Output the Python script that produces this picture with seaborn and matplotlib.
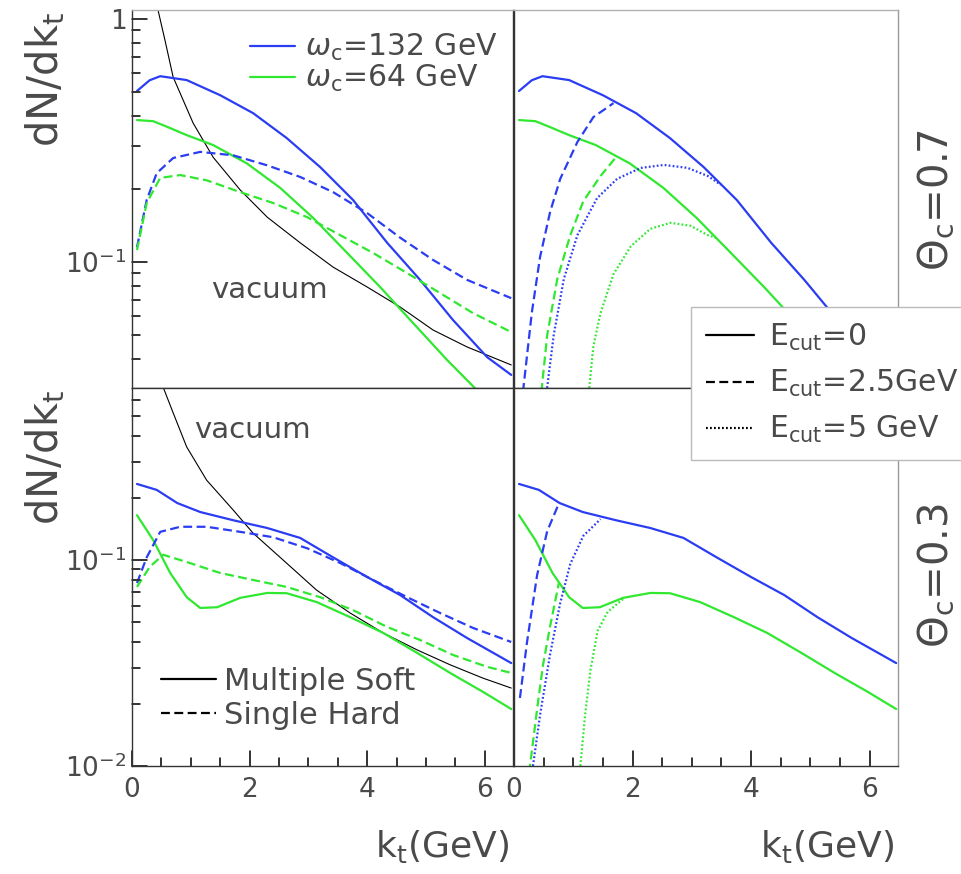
import numpy as np
import pandas as pd
import matplotlib
matplotlib.use("Agg")
import matplotlib.pyplot as plt
from matplotlib.lines import Line2D
from matplotlib.ticker import LogLocator, FixedLocator, FixedFormatter, NullFormatter
import seaborn as sns

# ---- data (k_t in GeV, dN/dk_t) ----
# Theta_c = 0.7 (top row)
soft132_07_x = [0.085, 0.3, 0.48, 0.93, 1.5, 2.06, 2.63, 3.2, 3.76, 4.34, 4.9, 5.46, 6.04, 6.45]
soft132_07_y = [0.506, 0.56, 0.582, 0.561, 0.486, 0.41, 0.324, 0.246, 0.18, 0.120, 0.0844, 0.0577, 0.0406, 0.0343]
soft64_07_x = [0.085, 0.36, 0.6, 0.93, 1.38, 1.95, 2.52, 3.08, 3.66, 4.22, 4.78, 5.36, 5.83, 6.45]
soft64_07_y = [0.384, 0.38, 0.36, 0.333, 0.303, 0.255, 0.202, 0.152, 0.109, 0.0789, 0.0561, 0.0395, 0.0303, 0.021]
hard132_07_x = [0.085, 0.25, 0.42, 0.7, 1.16, 1.72, 2.3, 2.86, 3.42, 4.0, 4.56, 5.12, 5.7, 6.45]
hard132_07_y = [0.115, 0.18, 0.232, 0.268, 0.284, 0.275, 0.25, 0.224, 0.194, 0.159, 0.126, 0.102, 0.0844, 0.071]
hard64_07_x = [0.085, 0.25, 0.48, 0.82, 1.27, 1.84, 2.4, 2.98, 3.54, 4.1, 4.68, 5.24, 5.8, 6.45]
hard64_07_y = [0.112, 0.175, 0.222, 0.228, 0.217, 0.194, 0.175, 0.153, 0.129, 0.109, 0.090, 0.0745, 0.0616, 0.0515]
vac07_x = [0.42, 0.56, 0.7, 1.04, 1.38, 1.84, 2.3, 2.86, 3.42, 4.0, 4.56, 5.12, 5.7, 6.45]
vac07_y = [1.15, 0.82, 0.577, 0.373, 0.270, 0.198, 0.153, 0.120, 0.0953, 0.0789, 0.0653, 0.0525, 0.0447, 0.0377]
cut25_132_07_x = [0.12, 0.16, 0.3, 0.44, 0.61, 0.78, 1.07, 1.34, 1.68]
cut25_132_07_y = [0.02, 0.0305, 0.0617, 0.105, 0.161, 0.22, 0.312, 0.395, 0.451]
cut25_64_07_x = [0.42, 0.47, 0.56, 0.73, 0.95, 1.17, 1.46, 1.71]
cut25_64_07_y = [0.02, 0.0305, 0.050, 0.085, 0.129, 0.178, 0.226, 0.268]
cut5_132_07_x = [0.52, 0.56, 0.67, 0.84, 1.07, 1.4, 1.74, 2.14, 2.53, 2.93, 3.27, 3.49]
cut5_132_07_y = [0.02, 0.0305, 0.05, 0.085, 0.129, 0.183, 0.22, 0.244, 0.251, 0.244, 0.226, 0.208]
cut5_64_07_x = [1.24, 1.27, 1.34, 1.46, 1.68, 1.97, 2.3, 2.64, 2.98, 3.27, 3.44]
cut5_64_07_y = [0.02, 0.0305, 0.0451, 0.0617, 0.0893, 0.116, 0.137, 0.145, 0.141, 0.129, 0.125]

# Theta_c = 0.3 (bottom row)
soft132_03_x = [0.085, 0.42, 0.77, 1.16, 1.72, 2.3, 2.86, 3.42, 4.0, 4.56, 5.12, 5.7, 6.45]
soft132_03_y = [0.234, 0.219, 0.189, 0.171, 0.156, 0.143, 0.128, 0.103, 0.0827, 0.0676, 0.0528, 0.0418, 0.0316]
soft64_03_x = [0.085, 0.36, 0.65, 0.93, 1.16, 1.45, 1.84, 2.3, 2.63, 3.14, 3.71, 4.27, 4.85, 5.41, 5.97, 6.45]
soft64_03_y = [0.165, 0.125, 0.0865, 0.066, 0.0585, 0.059, 0.0655, 0.0692, 0.069, 0.0625, 0.0528, 0.0443, 0.0354, 0.0283, 0.0229, 0.0189]
hard132_03_x = [0.085, 0.25, 0.48, 0.82, 1.27, 1.84, 2.4, 2.98, 3.54, 4.1, 4.68, 5.24, 5.8, 6.45]
hard132_03_y = [0.0773, 0.103, 0.137, 0.145, 0.145, 0.137, 0.129, 0.114, 0.0967, 0.08, 0.066, 0.0553, 0.0468, 0.04]
hard64_03_x = [0.085, 0.3, 0.53, 0.93, 1.5, 2.06, 2.63, 3.2, 3.76, 4.34, 4.9, 5.46, 6.04, 6.45]
hard64_03_y = [0.074, 0.0925, 0.106, 0.0978, 0.0865, 0.08, 0.074, 0.066, 0.0571, 0.0473, 0.0409, 0.0346, 0.0303, 0.0283]
vac03_x = [0.45, 0.53, 0.7, 0.93, 1.27, 1.72, 2.06, 2.57, 3.14, 3.71, 4.27, 4.85, 5.41, 5.97, 6.45]
vac03_y = [0.9, 0.69, 0.518, 0.354, 0.244, 0.175, 0.135, 0.1, 0.0714, 0.0553, 0.0443, 0.0366, 0.031, 0.0267, 0.0239]
cut25_132_03_x = [0.1, 0.22, 0.39, 0.56, 0.76]
cut25_132_03_y = [0.0214, 0.04, 0.0845, 0.138, 0.189]
cut5_132_03_x = [0.3, 0.32, 0.44, 0.61, 0.78, 0.95, 1.17, 1.46]
cut5_132_03_y = [0.008, 0.01, 0.0177, 0.035, 0.0618, 0.0957, 0.131, 0.158]
cut25_64_03_x = [0.25, 0.27, 0.39, 0.49, 0.61, 0.76]
cut25_64_03_y = [0.008, 0.01, 0.0189, 0.031, 0.0478, 0.078]
cut5_64_03_x = [1.1, 1.12, 1.2, 1.29, 1.41, 1.58, 1.85]
cut5_64_03_y = [0.008, 0.01, 0.0177, 0.0292, 0.0452, 0.056, 0.065]

x_ticks = [0, 2, 4, 6]
x_minor = [0.5, 1, 1.5, 2.5, 3, 3.5, 4.5, 5, 5.5]
top_yticks = [0.1, 1]
top_ylabels = [r'$\mathregular{10^{-1}}$', '1']
bot_yticks = [0.01, 0.1]
bot_ylabels = [r'$\mathregular{10^{-2}}$', r'$\mathregular{10^{-1}}$']

BLUE = '#2b3df2'
GREEN = '#2fe82f'
TXT = '#4a4a4a'
TICK = '#333333'

sns.set_style("ticks", {"xtick.direction": "in", "ytick.direction": "in"})
plt.rcParams['font.family'] = ['DejaVu Sans']
plt.rcParams['mathtext.fontset'] = 'dejavusans'
plt.rcParams['axes.axisbelow'] = False
for a in ['xtick', 'ytick']:
    plt.rcParams[a + '.major.size'] = 11
    plt.rcParams[a + '.minor.size'] = 6
    plt.rcParams[a + '.major.width'] = 1
    plt.rcParams[a + '.minor.width'] = 1

fig = plt.figure(figsize=(9.61, 8.74), dpi=100)
W, H = 961.0, 874.0
def box(l, t, r, b):
    return [l / W, 1 - b / H, (r - l) / W, (b - t) / H]

ax_tl = fig.add_axes(box(132, 10, 513, 388))
ax_tr = fig.add_axes(box(514, 10, 898, 388))
ax_bl = fig.add_axes(box(132, 388, 513, 766))
ax_br = fig.add_axes(box(514, 388, 898, 766))

DASH = (0, (4, 2))
DOT = (0, (0.8, 1.0))

def draw(ax, x, y, color, ls='-', lw=1.6):
    sns.lineplot(x=x, y=y, ax=ax, color=color, linestyle=ls, linewidth=lw,
                 sort=False, estimator=None, legend=False)

# top-left: multiple soft vs single hard, theta=0.7
draw(ax_tl, vac07_x, vac07_y, 'black', lw=0.8)
draw(ax_tl, soft132_07_x, soft132_07_y, BLUE)
draw(ax_tl, soft64_07_x, soft64_07_y, GREEN)
draw(ax_tl, hard132_07_x, hard132_07_y, BLUE, DASH)
draw(ax_tl, hard64_07_x, hard64_07_y, GREEN, DASH)

# top-right: energy cuts, theta=0.7
draw(ax_tr, soft132_07_x, soft132_07_y, BLUE)
draw(ax_tr, soft64_07_x, soft64_07_y, GREEN)
draw(ax_tr, cut25_132_07_x, cut25_132_07_y, BLUE, DASH)
draw(ax_tr, cut25_64_07_x, cut25_64_07_y, GREEN, DASH)
draw(ax_tr, cut5_132_07_x, cut5_132_07_y, BLUE, DOT)
draw(ax_tr, cut5_64_07_x, cut5_64_07_y, GREEN, DOT)

# bottom-left, theta=0.3
draw(ax_bl, vac03_x, vac03_y, 'black', lw=0.8)
draw(ax_bl, soft132_03_x, soft132_03_y, BLUE)
draw(ax_bl, soft64_03_x, soft64_03_y, GREEN)
draw(ax_bl, hard132_03_x, hard132_03_y, BLUE, DASH)
draw(ax_bl, hard64_03_x, hard64_03_y, GREEN, DASH)

# bottom-right, theta=0.3
draw(ax_br, soft132_03_x, soft132_03_y, BLUE)
draw(ax_br, soft64_03_x, soft64_03_y, GREEN)
draw(ax_br, cut25_132_03_x, cut25_132_03_y, BLUE, DASH)
draw(ax_br, cut25_64_03_x, cut25_64_03_y, GREEN, DASH)
draw(ax_br, cut5_132_03_x, cut5_132_03_y, BLUE, DOT)
draw(ax_br, cut5_64_03_x, cut5_64_03_y, GREEN, DOT)

for ax in [ax_tl, ax_tr, ax_bl, ax_br]:
    ax.set_yscale('log')
    ax.set_xlim(0, 6.48)
    ax.set_xlabel('')
    ax.set_ylabel('')
    for s in ax.spines.values():
        s.set_color(TICK)
        s.set_linewidth(1.0)

for ax in [ax_tl, ax_tr]:
    ax.set_ylim(0.0303, 1.09)
    ax.spines['top'].set_color('#b0b0b0')
for ax in [ax_bl, ax_br]:
    ax.set_ylim(0.01, 0.684)
for ax in [ax_tr, ax_br]:
    ax.spines['right'].set_color('#999999')

ax_tl.text(2.33, 0.0767, 'vacuum', fontsize=21, color=TXT, ha='center', va='center')
ax_bl.text(2.05, 0.428, 'vacuum', fontsize=21, color=TXT, ha='center', va='center')

fig.text(936 / W, 1 - 200 / H, r'$\Theta_\mathregular{c}$=0.7', rotation=90, fontsize=29,
         color=TXT, ha='center', va='center')
fig.text(936 / W, 1 - 575 / H, r'$\Theta_\mathregular{c}$=0.3', rotation=90, fontsize=29,
         color=TXT, ha='center', va='center')

# legends
h1 = [Line2D([], [], color=BLUE, lw=1.6), Line2D([], [], color=GREEN, lw=1.6)]
l1 = [r'$\omega_\mathregular{c}$=132 GeV', r'$\omega_\mathregular{c}$=64 GeV']
leg1 = ax_tl.legend(h1, l1, loc='upper left', bbox_to_anchor=(250 / W, 1 - 32 / H),
                    bbox_transform=fig.transFigure, frameon=False, fontsize=21.5,
                    handlelength=1.5, handletextpad=0.35, labelspacing=0.0,
                    borderpad=0, borderaxespad=0, labelcolor=TXT)

h2 = [Line2D([], [], color='black', lw=1.6), Line2D([], [], color='black', lw=1.6, linestyle=DASH)]
l2 = ['Multiple Soft', 'Single Hard']
leg2 = ax_bl.legend(h2, l2, loc='upper left', bbox_to_anchor=(161 / W, 1 - 667 / H),
                    bbox_transform=fig.transFigure, frameon=False, fontsize=22,
                    handlelength=1.8, handletextpad=0.25, labelspacing=0.15,
                    borderpad=0, borderaxespad=0, labelcolor=TXT)

h3 = [Line2D([], [], color='black', lw=1.6),
      Line2D([], [], color='black', lw=1.6, linestyle=DASH),
      Line2D([], [], color='black', lw=1.6, linestyle=DOT)]
l3 = [r'E$_\mathregular{cut}$=0', r'E$_\mathregular{cut}$=2.5GeV', r'E$_\mathregular{cut}$=5 GeV']
leg3 = fig.legend(h3, l3, loc='upper left', bbox_to_anchor=(691 / W, 1 - 307 / H),
                  bbox_transform=fig.transFigure, frameon=True, fancybox=False,
                  edgecolor='#bbbbbb', framealpha=1, fontsize=21.5,
                  handlelength=1.6, handletextpad=0.5, labelspacing=0.5,
                  borderpad=0.5, borderaxespad=0, labelcolor=TXT)
leg3.get_frame().set_linewidth(1.0)

# ticks and axis titles (ROOT-like: inside, only on left column / bottom row)
for ax in [ax_bl, ax_br]:
    ax.xaxis.set_major_locator(FixedLocator(x_ticks))
    ax.xaxis.set_minor_locator(FixedLocator(x_minor))
    ax.set_xlabel(r'k$_\mathregular{t}$(GeV)', fontsize=26, color=TXT, loc='right')
    ax.xaxis.set_label_coords(0.99, -0.165)
ax_tl.yaxis.set_major_locator(FixedLocator(top_yticks))
ax_tl.yaxis.set_major_formatter(FixedFormatter(top_ylabels))
ax_bl.yaxis.set_major_locator(FixedLocator(bot_yticks))
ax_bl.yaxis.set_major_formatter(FixedFormatter(bot_ylabels))
for ax in [ax_tl, ax_bl]:
    ax.yaxis.set_minor_locator(LogLocator(base=10, subs=np.arange(2, 10), numticks=20))
    ax.yaxis.set_minor_formatter(NullFormatter())
    ax.set_ylabel(r'dN/dk$_\mathregular{t}$', fontsize=30, color=TXT, loc='top')
    ax.yaxis.set_label_coords(-0.17, 0.995)

for ax in [ax_tl, ax_tr, ax_bl, ax_br]:
    bottom_row = ax in (ax_bl, ax_br)
    left_col = ax in (ax_tl, ax_bl)
    ax.set_axisbelow(False)
    ax.tick_params(axis='x', which='both', direction='in', color=TICK, labelcolor=TXT,
                   labelsize=19, top=False, bottom=bottom_row, labelbottom=bottom_row, pad=8)
    ax.tick_params(axis='y', which='both', direction='in', color=TICK, labelcolor=TXT,
                   labelsize=19, right=False, left=left_col, labelleft=left_col, pad=4)
    ax.tick_params(which='major', length=11, width=1.2)
    ax.tick_params(which='minor', length=6, width=1.2)

# tick marks also drawn as short axis-anchored segments, so they surely show
fig.canvas.draw()
px_per_pt = 100 / 72
for ax in [ax_bl, ax_br]:
    hx = ax.get_window_extent().height
    for xv in x_ticks:
        ax.plot([xv, xv], [0, 11 * px_per_pt / hx], transform=ax.get_xaxis_transform(),
                color=TICK, lw=1.2, clip_on=False, zorder=5)
    for xv in x_minor:
        ax.plot([xv, xv], [0, 6 * px_per_pt / hx], transform=ax.get_xaxis_transform(),
                color=TICK, lw=1.2, clip_on=False, zorder=5)
for ax in [ax_tl, ax_bl]:
    wx = ax.get_window_extent().width
    lo, hi = ax.get_ylim()
    majors = [v for v in ax.get_yticks() if lo <= v <= hi]
    minors = [v for v in ax.yaxis.get_minorticklocs() if lo <= v <= hi]
    for yv in majors:
        ax.plot([0, 11 * px_per_pt / wx], [yv, yv], transform=ax.get_yaxis_transform(),
                color=TICK, lw=1.2, clip_on=False, zorder=5)
    for yv in minors:
        ax.plot([0, 6 * px_per_pt / wx], [yv, yv], transform=ax.get_yaxis_transform(),
                color=TICK, lw=1.2, clip_on=False, zorder=5)
    ax.set_ylim(lo, hi)

fig.savefig('out.png', dpi=100, facecolor='white')
